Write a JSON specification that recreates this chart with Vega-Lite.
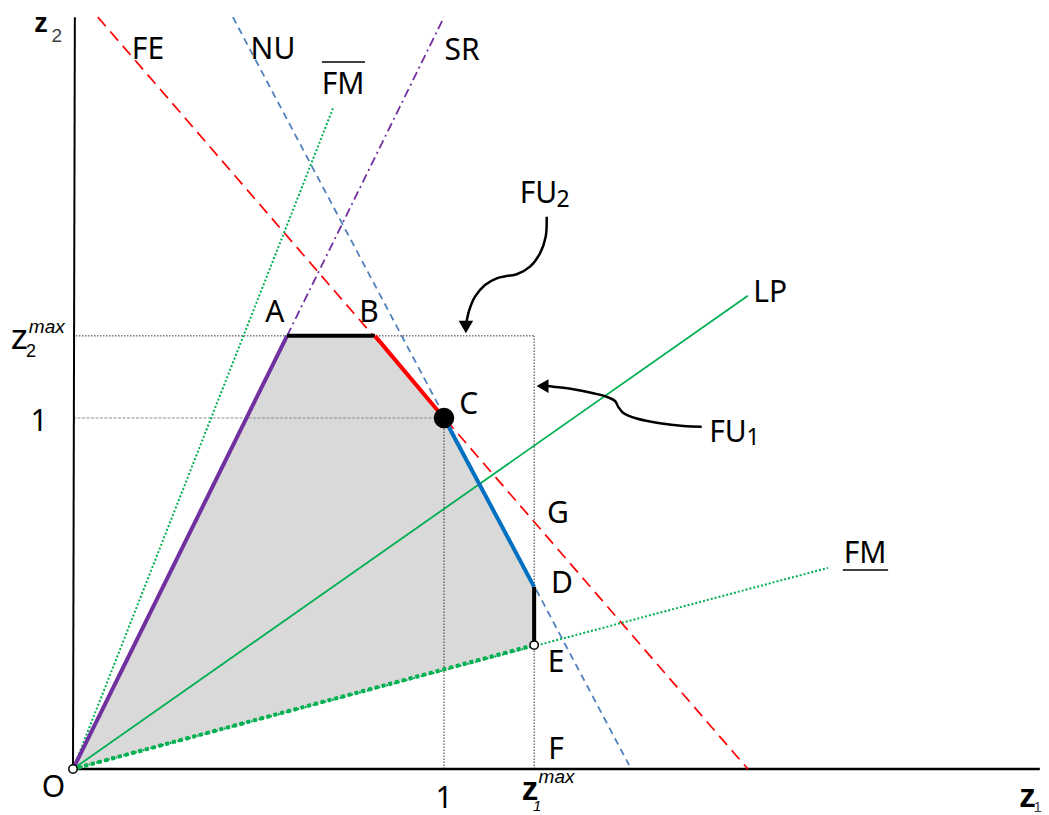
{
  "$schema": "https://vega.github.io/schema/vega-lite/v6.json",
  "width": 1049,
  "height": 815,
  "autosize": {"type": "fit", "contains": "padding"},
  "padding": 0,
  "background": "white",
  "view": {"stroke": null},
  "config": {"text": {"font": "Noto Sans"}},
  "datasets": {
    "region": [
      {"x": 0, "top": 0, "bot": 0},
      {"x": 0.577, "top": 1.234, "bot": 0.1625},
      {"x": 0.814, "top": 1.234, "bot": 0.2292},
      {"x": 1.0, "top": 1.0, "bot": 0.2816},
      {"x": 1.243, "top": 0.519, "bot": 0.35}
    ],
    "guides": [
      {"id": "h2max", "x": 0, "y": 1.234, "x2": 1.243, "y2": 1.234},
      {"id": "v1max", "x": 1.243, "y": 0, "x2": 1.243, "y2": 1.234},
      {"id": "h1", "x": 0, "y": 1, "x2": 1, "y2": 1},
      {"id": "v1", "x": 1, "y": 0, "x2": 1, "y2": 1},
      {"id": "over", "x": 0.671, "y": 2.014, "x2": 0.787, "y2": 2.014},
      {"id": "under", "x": 2.075, "y": 0.567, "x2": 2.197, "y2": 0.567},
      {"id": "xaxis", "x": 0, "y": 0, "x2": 2.606, "y2": 0},
      {"id": "yaxis", "x": 0, "y": 0, "x2": 0.005, "y2": 2.142}
    ],
    "lines": [
      {"id": "FE", "x": 0.067, "y": 2.142, "x2": 1.819, "y2": 0},
      {"id": "NU", "x": 0.431, "y": 2.142, "x2": 1.499, "y2": 0.011},
      {"id": "SR", "x": 0.577, "y": 1.234, "x2": 1.0, "y2": 2.142},
      {"id": "FMbar", "x": 0, "y": 0, "x2": 0.701, "y2": 1.883},
      {"id": "FMund", "x": 0, "y": 0, "x2": 2.035, "y2": 0.573},
      {"id": "LP", "x": 0, "y": 0, "x2": 1.819, "y2": 1.348}
    ],
    "segs": [
      {"id": "OA", "x": 0, "y": 0, "x2": 0.577, "y2": 1.234},
      {"id": "AB", "x": 0.577, "y": 1.234, "x2": 0.814, "y2": 1.234},
      {"id": "BC", "x": 0.814, "y": 1.234, "x2": 1.0, "y2": 1.0},
      {"id": "CD", "x": 1.0, "y": 1.0, "x2": 1.243, "y2": 0.519},
      {"id": "DE", "x": 1.243, "y": 0.519, "x2": 1.243, "y2": 0.353},
      {"id": "EO", "x": 1.243, "y": 0.353, "x2": 0, "y2": 0}
    ],
    "arrows": [
      {"a": "FU2", "i": 0, "x": 1.2768, "y": 1.5735},
      {"a": "FU2", "i": 1, "x": 1.2741, "y": 1.5165},
      {"a": "FU2", "i": 2, "x": 1.2588, "y": 1.4692},
      {"a": "FU2", "i": 3, "x": 1.2318, "y": 1.4311},
      {"a": "FU2", "i": 4, "x": 1.196, "y": 1.4094},
      {"a": "FU2", "i": 5, "x": 1.169, "y": 1.4046},
      {"a": "FU2", "i": 6, "x": 1.142, "y": 1.398},
      {"a": "FU2", "i": 7, "x": 1.1105, "y": 1.3789},
      {"a": "FU2", "i": 8, "x": 1.0836, "y": 1.3456},
      {"a": "FU2", "i": 9, "x": 1.0682, "y": 1.3077},
      {"a": "FU2", "i": 10, "x": 1.0606, "y": 1.2735},
      {"a": "FU1", "i": 0, "x": 1.6946, "y": 0.9752},
      {"a": "FU1", "i": 1, "x": 1.645, "y": 0.9772},
      {"a": "FU1", "i": 2, "x": 1.5822, "y": 0.9849},
      {"a": "FU1", "i": 3, "x": 1.5194, "y": 0.9986},
      {"a": "FU1", "i": 4, "x": 1.4833, "y": 1.0145},
      {"a": "FU1", "i": 5, "x": 1.4698, "y": 1.0316},
      {"a": "FU1", "i": 6, "x": 1.4609, "y": 1.0484},
      {"a": "FU1", "i": 7, "x": 1.4385, "y": 1.0604},
      {"a": "FU1", "i": 8, "x": 1.4024, "y": 1.0704},
      {"a": "FU1", "i": 9, "x": 1.3485, "y": 1.0818},
      {"a": "FU1", "i": 10, "x": 1.2946, "y": 1.0892},
      {"a": "FU1", "i": 11, "x": 1.2803, "y": 1.0912}
    ],
    "heads": [
      {"a": "FU2", "x": 1.059, "y": 1.259},
      {"a": "FU1", "x": 1.2655, "y": 1.091}
    ],
    "points": [
      {"p": "C", "x": 1.0, "y": 1.0},
      {"p": "O", "x": 0, "y": 0},
      {"p": "E", "x": 1.243, "y": 0.353}
    ],
    "labels": [
      {"t": "FE", "x": 0.202, "y": 2.023},
      {"t": "NU", "x": 0.539, "y": 2.023},
      {"t": "SR", "x": 1.049, "y": 2.02},
      {"t": "FM", "x": 0.728, "y": 1.923},
      {"t": "LP", "x": 1.879, "y": 1.33},
      {"t": "C", "x": 1.067, "y": 1.011},
      {"t": "A", "x": 0.544, "y": 1.274},
      {"t": "B", "x": 0.798, "y": 1.274},
      {"t": "G", "x": 1.307, "y": 0.701},
      {"t": "D", "x": 1.318, "y": 0.501},
      {"t": "E", "x": 1.302, "y": 0.276},
      {"t": "F", "x": 1.302, "y": 0.028},
      {"t": "FM", "x": 2.135, "y": 0.587},
      {"t": "O", "x": -0.0526, "y": -0.0798},
      {"t": "1", "x": 1.0, "y": -0.111},
      {"t": "1", "x": -0.0916, "y": 0.963},
      {"t": "FU", "x": 1.2547, "y": 1.6117},
      {"t": "FU", "x": 1.7655, "y": 0.9316}
    ],
    "subs": [
      {"t": "2", "x": 1.3208, "y": 1.6011},
      {"t": "1", "x": 1.8329, "y": 0.9231}
    ],
    "ztext": [
      {"id": "z2top", "t": "z", "x": -0.086, "y": 2.1006},
      {"id": "z2top_s", "t": "2", "x": -0.044, "y": 2.072},
      {"id": "z1end", "t": "z", "x": 2.573, "y": -0.107},
      {"id": "z1end_s", "t": "1", "x": 2.6, "y": -0.122},
      {"id": "z1max", "t": "z", "x": 1.232, "y": -0.088},
      {"id": "z1max_sup", "t": "max", "x": 1.255, "y": -0.04},
      {"id": "z1max_s", "t": "1", "x": 1.251, "y": -0.12},
      {"id": "z2max", "t": "z", "x": -0.144, "y": 1.198},
      {"id": "z2max_sup", "t": "max", "x": -0.119, "y": 1.243},
      {"id": "z2max_s", "t": "2", "x": -0.113, "y": 1.175}
    ]
  },
  "encoding": {
    "x": {"field": "x", "type": "quantitative", "axis": null, "scale": {"domain": [-0.19677, 2.63073], "nice": false, "zero": false}},
    "y": {"field": "y", "type": "quantitative", "axis": null, "scale": {"domain": [-0.13105, 2.19088], "nice": false, "zero": false}}
  },
  "layer": [
    {
      "data": {"name": "region"},
      "mark": {"type": "area", "color": "#d9d9d9", "opacity": 1},
      "encoding": {"y": {"field": "top", "type": "quantitative"}, "y2": {"field": "bot"}}
    },
    {
      "data": {"name": "guides"},
      "transform": [{"filter": "datum.id == 'h2max' || datum.id == 'v1max' || datum.id == 'v1'"}],
      "mark": {"type": "rule", "color": "#333333", "strokeWidth": 1, "strokeDash": [1.5, 1.5]},
      "encoding": {"x2": {"field": "x2"}, "y2": {"field": "y2"}}
    },
    {
      "data": {"name": "guides"},
      "transform": [{"filter": "datum.id == 'h1'"}],
      "mark": {"type": "rule", "color": "#8c8c8c", "strokeWidth": 1, "strokeDash": [3, 1.5]},
      "encoding": {"x2": {"field": "x2"}, "y2": {"field": "y2"}}
    },
    {
      "data": {"name": "guides"},
      "transform": [{"filter": "datum.id == 'over' || datum.id == 'under'"}],
      "mark": {"type": "rule", "color": "#000000", "strokeWidth": 1.5},
      "encoding": {"x2": {"field": "x2"}, "y2": {"field": "y2"}}
    },
    {
      "data": {"name": "guides"},
      "transform": [{"filter": "datum.id == 'xaxis'"}],
      "mark": {"type": "rule", "color": "#000000", "strokeWidth": 2.5},
      "encoding": {"x2": {"field": "x2"}, "y2": {"field": "y2"}}
    },
    {
      "data": {"name": "guides"},
      "transform": [{"filter": "datum.id == 'yaxis'"}],
      "mark": {"type": "rule", "color": "#000000", "strokeWidth": 2},
      "encoding": {"x2": {"field": "x2"}, "y2": {"field": "y2"}}
    },
    {
      "data": {"name": "lines"},
      "transform": [{"filter": "datum.id == 'FE'"}],
      "mark": {"type": "rule", "color": "#ff0000", "strokeWidth": 1.7, "strokeDash": [12, 7]},
      "encoding": {"x2": {"field": "x2"}, "y2": {"field": "y2"}}
    },
    {
      "data": {"name": "lines"},
      "transform": [{"filter": "datum.id == 'NU'"}],
      "mark": {"type": "rule", "color": "#4f81bd", "strokeWidth": 1.8, "strokeDash": [7, 5]},
      "encoding": {"x2": {"field": "x2"}, "y2": {"field": "y2"}}
    },
    {
      "data": {"name": "lines"},
      "transform": [{"filter": "datum.id == 'SR'"}],
      "mark": {"type": "rule", "color": "#7030a0", "strokeWidth": 1.8, "strokeDash": [9, 4, 2, 4]},
      "encoding": {"x2": {"field": "x2"}, "y2": {"field": "y2"}}
    },
    {
      "data": {"name": "lines"},
      "transform": [{"filter": "datum.id == 'FMbar' || datum.id == 'FMund'"}],
      "mark": {"type": "rule", "color": "#00b050", "strokeWidth": 2, "strokeDash": [2, 2]},
      "encoding": {"x2": {"field": "x2"}, "y2": {"field": "y2"}}
    },
    {
      "data": {"name": "lines"},
      "transform": [{"filter": "datum.id == 'LP'"}],
      "mark": {"type": "rule", "color": "#00b050", "strokeWidth": 1.8},
      "encoding": {"x2": {"field": "x2"}, "y2": {"field": "y2"}}
    },
    {
      "data": {"name": "segs"},
      "transform": [{"filter": "datum.id != 'EO'"}],
      "mark": {"type": "rule", "strokeWidth": 4, "strokeCap": "butt"},
      "encoding": {
        "x2": {"field": "x2"},
        "y2": {"field": "y2"},
        "color": {"field": "id", "type": "nominal", "legend": null, "scale": {"domain": ["OA", "AB", "BC", "CD", "DE"], "range": ["#7030a0", "#000000", "#ff0000", "#0070c0", "#000000"]}}
      }
    },
    {
      "data": {"name": "segs"},
      "transform": [{"filter": "datum.id == 'EO'"}],
      "mark": {"type": "rule", "color": "#00b050", "strokeWidth": 4, "strokeDash": [4, 3]},
      "encoding": {"x2": {"field": "x2"}, "y2": {"field": "y2"}}
    },
    {
      "data": {"name": "arrows"},
      "mark": {"type": "line", "color": "#000000", "strokeWidth": 2.5, "interpolate": "catmull-rom"},
      "encoding": {"detail": {"field": "a"}, "order": {"field": "i", "type": "quantitative"}}
    },
    {
      "data": {"name": "heads"},
      "transform": [{"filter": "datum.a == 'FU2'"}],
      "mark": {"type": "point", "shape": "triangle-down", "filled": true, "color": "#000000", "size": 210, "opacity": 1},
      "encoding": {}
    },
    {
      "data": {"name": "heads"},
      "transform": [{"filter": "datum.a == 'FU1'"}],
      "mark": {"type": "point", "shape": "triangle-left", "filled": true, "color": "#000000", "size": 190, "opacity": 1},
      "encoding": {}
    },
    {
      "data": {"name": "points"},
      "transform": [{"filter": "datum.p == 'C'"}],
      "mark": {"type": "point", "shape": "circle", "filled": true, "color": "#000000", "size": 420, "opacity": 1},
      "encoding": {}
    },
    {
      "data": {"name": "points"},
      "transform": [{"filter": "datum.p != 'C'"}],
      "mark": {"type": "point", "shape": "circle", "filled": true, "fill": "#ffffff", "stroke": "#000000", "strokeWidth": 1.5, "size": 70, "opacity": 1},
      "encoding": {}
    },
    {
      "data": {"name": "labels"},
      "mark": {"type": "text", "font": "Noto Sans", "fontSize": 30, "align": "center", "baseline": "alphabetic", "color": "#000000"},
      "encoding": {"text": {"field": "t"}}
    },
    {
      "data": {"name": "subs"},
      "mark": {"type": "text", "font": "Noto Sans", "fontSize": 23, "align": "center", "baseline": "alphabetic", "color": "#000000"},
      "encoding": {"text": {"field": "t"}}
    },
    {
      "data": {"name": "ztext"},
      "transform": [{"filter": "datum.id == 'z2top'"}],
      "mark": {"type": "text", "font": "Liberation Sans", "fontSize": 27, "fontWeight": "bold", "align": "center", "baseline": "alphabetic", "color": "#000000"},
      "encoding": {"text": {"field": "t"}}
    },
    {
      "data": {"name": "ztext"},
      "transform": [{"filter": "datum.id == 'z2top_s'"}],
      "mark": {"type": "text", "font": "Liberation Sans", "fontSize": 19, "align": "center", "baseline": "alphabetic", "color": "#404040"},
      "encoding": {"text": {"field": "t"}}
    },
    {
      "data": {"name": "ztext"},
      "transform": [{"filter": "datum.id == 'z1end' || datum.id == 'z1max'"}],
      "mark": {"type": "text", "font": "Liberation Sans", "fontSize": 33, "fontWeight": "bold", "align": "center", "baseline": "alphabetic", "color": "#000000"},
      "encoding": {"text": {"field": "t"}}
    },
    {
      "data": {"name": "ztext"},
      "transform": [{"filter": "datum.id == 'z1end_s'"}],
      "mark": {"type": "text", "font": "Liberation Sans", "fontSize": 15, "align": "center", "baseline": "alphabetic", "color": "#404040"},
      "encoding": {"text": {"field": "t"}}
    },
    {
      "data": {"name": "ztext"},
      "transform": [{"filter": "datum.id == 'z1max_s'"}],
      "mark": {"type": "text", "font": "Liberation Sans", "fontSize": 15, "fontStyle": "italic", "align": "center", "baseline": "alphabetic", "color": "#000000"},
      "encoding": {"text": {"field": "t"}}
    },
    {
      "data": {"name": "ztext"},
      "transform": [{"filter": "datum.id == 'z1max_sup' || datum.id == 'z2max_sup'"}],
      "mark": {"type": "text", "font": "Liberation Sans", "fontSize": 19, "fontStyle": "italic", "align": "left", "baseline": "alphabetic", "color": "#000000"},
      "encoding": {"text": {"field": "t"}}
    },
    {
      "data": {"name": "ztext"},
      "transform": [{"filter": "datum.id == 'z2max'"}],
      "mark": {"type": "text", "font": "Liberation Sans", "fontSize": 35, "align": "center", "baseline": "alphabetic", "color": "#000000"},
      "encoding": {"text": {"field": "t"}}
    },
    {
      "data": {"name": "ztext"},
      "transform": [{"filter": "datum.id == 'z2max_s'"}],
      "mark": {"type": "text", "font": "Liberation Sans", "fontSize": 18, "align": "center", "baseline": "alphabetic", "color": "#000000"},
      "encoding": {"text": {"field": "t"}}
    }
  ]
}
